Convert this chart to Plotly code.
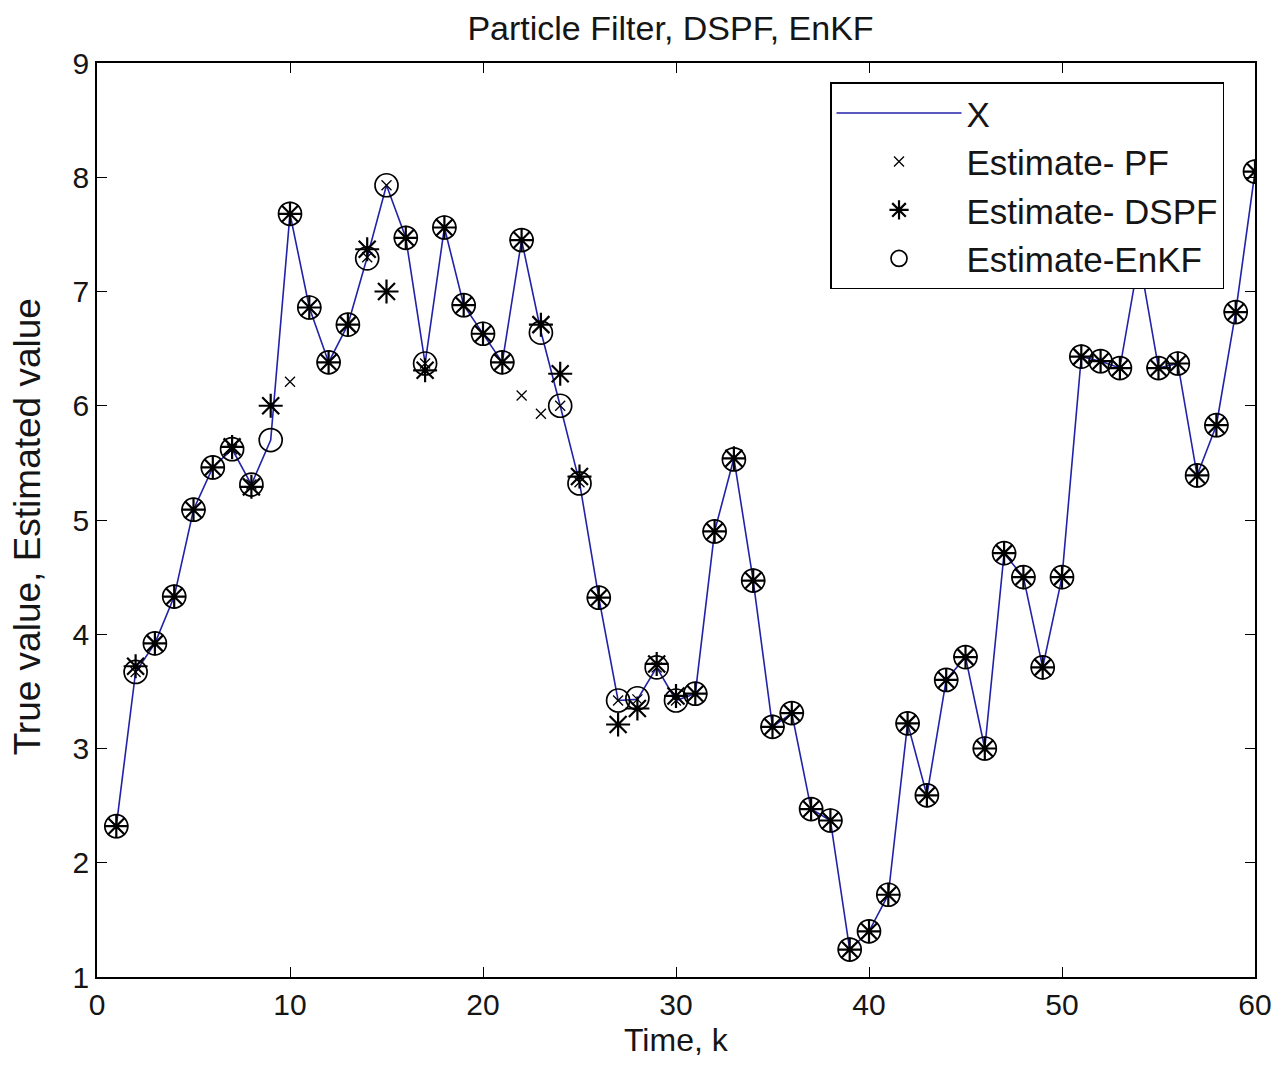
import plotly.graph_objects as go

k = list(range(1, 61))

x_true = [2.32, 3.67, 3.92, 4.33, 5.09, 5.46, 5.62, 5.31, 5.70, 7.68,
          6.86, 6.38, 6.71, 7.30, 7.93, 7.47, 6.37, 7.56, 6.88, 6.63,
          6.38, 7.45, 6.65, 6.00, 5.33, 4.32, 3.42, 3.43, 3.71, 3.42,
          3.48, 4.90, 5.54, 4.47, 3.19, 3.31, 2.47, 2.37, 1.24, 1.40,
          1.72, 3.22, 2.59, 3.60, 3.80, 3.00, 4.71, 4.50, 3.71, 4.50,
          6.43, 6.39, 6.33, 7.30, 6.33, 6.37, 5.39, 5.83, 6.82, 8.05]

est_pf = [2.32, 3.67, 3.92, 4.33, 5.09, 5.46, 5.62, 5.31, 6.00, 6.21,
          6.86, 6.38, 6.71, 7.30, 7.93, 7.47, 6.37, 7.56, 6.88, 6.63,
          6.38, 6.09, 5.93, 6.00, 5.33, 4.32, 3.42, 3.43, 3.71, 3.42,
          3.48, 4.90, 5.54, 4.47, 3.19, 3.31, 2.47, 2.37, 1.24, 1.40,
          1.72, 3.22, 2.59, 3.60, 3.80, 3.00, 4.71, 4.50, 3.71, 4.50,
          6.43, 6.39, 6.33, 7.30, 6.33, 6.37, 5.39, 5.83, 6.82, 8.05]

est_dspf = [2.32, 3.72, 3.92, 4.33, 5.09, 5.46, 5.64, 5.29, 6.00, 7.68,
            6.86, 6.38, 6.71, 7.37, 7.00, 7.47, 6.31, 7.56, 6.88, 6.63,
            6.38, 7.45, 6.71, 6.28, 5.38, 4.32, 3.21, 3.35, 3.74, 3.46,
            3.48, 4.90, 5.54, 4.47, 3.19, 3.31, 2.47, 2.37, 1.24, 1.40,
            1.72, 3.22, 2.59, 3.60, 3.80, 3.00, 4.71, 4.50, 3.71, 4.50,
            6.43, 6.39, 6.33, 7.30, 6.33, 6.37, 5.39, 5.83, 6.82, 8.05]

est_enkf = [2.32, 3.67, 3.92, 4.33, 5.09, 5.46, 5.62, 5.31, 5.70, 7.68,
            6.86, 6.38, 6.71, 7.29, 7.93, 7.47, 6.37, 7.56, 6.88, 6.63,
            6.38, 7.45, 6.64, 6.00, 5.32, 4.32, 3.42, 3.44, 3.71, 3.42,
            3.48, 4.90, 5.53, 4.47, 3.19, 3.31, 2.47, 2.37, 1.24, 1.40,
            1.72, 3.22, 2.59, 3.60, 3.80, 3.00, 4.71, 4.50, 3.71, 4.50,
            6.43, 6.39, 6.33, 7.30, 6.33, 6.37, 5.39, 5.83, 6.82, 8.05]

x_ticks = [0, 10, 20, 30, 40, 50, 60]
y_ticks = [1, 2, 3, 4, 5, 6, 7, 8, 9]

FONT = "Liberation Sans, Arial, sans-serif"
TXT = "#151515"

fig = go.Figure()
fig.add_trace(go.Scatter(x=k, y=x_true, mode="lines", name="X",
                         line=dict(color="#2222a8", width=1.6)))
fig.add_trace(go.Scatter(x=k, y=est_pf, mode="markers", name="Estimate- PF",
                         marker=dict(symbol="x-thin", size=10, color="black",
                                     line=dict(color="black", width=1.3))))
fig.add_trace(go.Scatter(x=k, y=est_dspf, mode="markers", name="Estimate- DSPF",
                         marker=dict(symbol="asterisk", size=20, color="black",
                                     line=dict(color="black", width=2.2))))
fig.add_trace(go.Scatter(x=k, y=est_enkf, mode="markers", name="Estimate-EnKF",
                         marker=dict(symbol="circle-open", size=23, color="black",
                                     line=dict(color="black", width=1.7))))

axis_common = dict(showgrid=False, zeroline=False, showline=True, linecolor="black",
                   linewidth=1.5, mirror="ticks", ticks="inside", ticklen=10,
                   tickwidth=1.3, tickcolor="black",
                   tickfont=dict(family=FONT, size=30, color=TXT))

fig.update_layout(
    width=1279, height=1066,
    margin=dict(l=89, r=32, t=55, b=97),
    paper_bgcolor="white", plot_bgcolor="white",
    title=dict(text="Particle Filter, DSPF, EnKF", x=0.518, xanchor="center",
               y=0.981, yanchor="middle",
               font=dict(family=FONT, size=34, color=TXT)),
    xaxis=dict(range=[0, 60], tickvals=x_ticks, ticktext=[str(v) for v in x_ticks],
               **axis_common),
    yaxis=dict(range=[1, 9], tickvals=y_ticks, ticktext=[str(v) for v in y_ticks],
               **axis_common),
    legend=dict(x=0.633, y=0.979, xanchor="left", yanchor="top",
                bgcolor="white", bordercolor="black", borderwidth=1.5,
                font=dict(family=FONT, size=35, color=TXT),
                itemwidth=125, tracegroupgap=0),
    showlegend=True,
    annotations=[
        dict(text="Time, k", xref="paper", yref="paper", x=0.5, y=-0.069,
             xanchor="center", yanchor="middle", showarrow=False,
             font=dict(family=FONT, size=32, color=TXT)),
        dict(text="True value, Estimated value", xref="paper", yref="paper",
             x=-0.0604, y=0.492, xanchor="center", yanchor="middle", textangle=-90,
             showarrow=False, font=dict(family=FONT, size=37, color=TXT)),
    ],
)

fig.write_html("out.html")
